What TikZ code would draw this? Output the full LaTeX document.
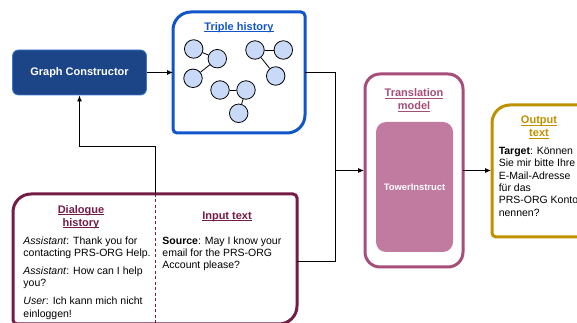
\documentclass[tikz,border=0pt]{standalone}
\usepackage{fontspec}
\setmainfont{Liberation Sans}
\usetikzlibrary{arrows.meta}

\definecolor{gcblue}{HTML}{1C4587}
\definecolor{gcedge}{HTML}{3C78D8}
\definecolor{thblue}{HTML}{1155CC}
\definecolor{nodeblue}{HTML}{C9DAF8}
\definecolor{tmpink}{HTML}{A64D79}
\definecolor{towerpink}{HTML}{C27BA0}
\definecolor{dlgred}{HTML}{741B47}
\definecolor{outgold}{HTML}{BF9000}

% underlined heading word
\newcommand{\hdline}[1]{\setbox0\hbox{#1}\rlap{\copy0}\rule[-2pt]{\wd0}{1pt}}
% frame with big top-left/bottom-right and small top-right/bottom-left corners
\newcommand{\leafframe}[3][]{%
  \draw[line width=3pt, #1] ([yshift=-#3]#2.north west) arc[start angle=180, end angle=90, radius=#3]
    -- ([xshift=-4pt]#2.north east) arc[start angle=90, end angle=0, radius=4pt]
    -- ([yshift=#3]#2.south east) arc[start angle=0, end angle=-90, radius=#3]
    -- ([xshift=4pt]#2.south west) arc[start angle=270, end angle=180, radius=4pt]
    -- cycle;}

\begin{document}
\begin{tikzpicture}[x=1pt, y=1pt, >={Latex[length=6pt,width=5pt]}, line width=0.9pt,
    holder/.style={inner sep=0, outer sep=0},
    boxtitle/.style={font=\fontsize{11}{13}\selectfont\bfseries, align=center, anchor=north, inner sep=0},
    boxtext/.style={font=\fontsize{10.5}{12.4}\selectfont, align=left, anchor=north west, inner sep=0},
    tnode/.style={circle, draw, line width=0.8pt, fill=nodeblue, minimum size=18.5pt, inner sep=0}]
    \clip (0,0) rectangle (577,323);
    \def\bigr{18pt}
    % graph constructor
    \node[draw=gcedge, line width=0.8pt, fill=gcblue, rounded corners=6pt, minimum width=134pt,
        minimum height=45pt, text=white, font=\fontsize{11}{13}\selectfont\bfseries] (gc) at (79.5,250.5) {Graph Constructor};
    % triple history
    \node[holder, minimum width=132pt, minimum height=121pt] (th) at (239,250.5) {};
    \leafframe[thblue]{th}{\bigr}
    \node[boxtitle, text=thblue] (thtitle) at (239,301) {\hdline{Triple history}};
    \foreach \n/\x/\y in {a1/193.7/274, a2/217.3/264.3, a3/193/244.7,
                         b1/255/273, b2/283.3/273, b3/275.7/247,
                         c1/220/233, c2/246/233, c3/238.7/209.7}
        \node[tnode] (\n) at (\x,\y) {};
    \foreach \u/\v in {a1/a2, a2/a3, b1/b2, b1/b3, c1/c2, c2/c3}
        \draw[line width=0.8pt] (\u) -- (\v);
    % translation model
    \node[draw=tmpink, line width=3pt, rounded corners=15pt, minimum width=98pt, minimum height=193pt,
        holder] (tm) at (414,152.5) {};
    \node[boxtitle, text=tmpink] (tmtitle) at (414,234.7) {\hdline{Translation}\\\hdline{model}};
    \node[fill=towerpink, rounded corners=10pt, minimum width=77pt, minimum height=130pt, text=white,
        font=\fontsize{9.4}{11}\selectfont\bfseries] (tower) at (414.5,136) {TowerInstruct};
    % output text
    \node[holder, minimum width=108pt, minimum height=132pt] (ot) at (546,152) {};
    \leafframe[outgold]{ot}{\bigr}
    \node[boxtitle, text=outgold] (ottitle) at (539,207.3) {\hdline{Output}\\\hdline{text}};
    \node[boxtext] (target) at (498.3,176.3) {\textbf{Target}: Können\\Sie mir bitte Ihre\\E-Mail-Adresse\\für das\\PRS-ORG Konto\\nennen?};
    % dialogue history and input text
    \node[holder, minimum width=284pt, minimum height=130pt] (db) at (155,64) {};
    \leafframe[dlgred]{db}{\bigr}
    \draw[dlgred, line width=0.8pt, dash pattern=on 3pt off 2.5pt] (db.north) -- (db.south);
    \node[boxtitle, text=dlgred] (dhtitle) at (81,118) {\hdline{Dialogue}\\\hdline{history}};
    \node[boxtitle, text=dlgred] (intitle) at (227,112) {\hdline{Input text}};
    \node[boxtext] (history) at (23,87) {\textit{Assistant}: Thank you for\\contacting PRS-ORG Help.\\[5.6pt]
        \textit{Assistant}: How can I help\\you?\\[5.6pt]\textit{User}: Ich kann mich nicht\\einloggen!};
    \node[boxtext] (source) at (162,87) {\textbf{Source}: May I know your\\email for the PRS-ORG\\Account please?};
    % connectors
    \coordinate (join) at (335,152.5);
    \draw[->] (gc) -- (th);
    \draw (th.east) -| (join);
    \draw ([yshift=-2pt]db.east) -| (join);
    \draw[->, shorten >=1pt] (join) -- (tm.west);
    \draw[->, shorten >=1pt] (tm.east) -- (tm.east -| ot.west);
    \draw[->] (db.north) -- ++(0,48) -| (gc.south);
\end{tikzpicture}
\end{document}
